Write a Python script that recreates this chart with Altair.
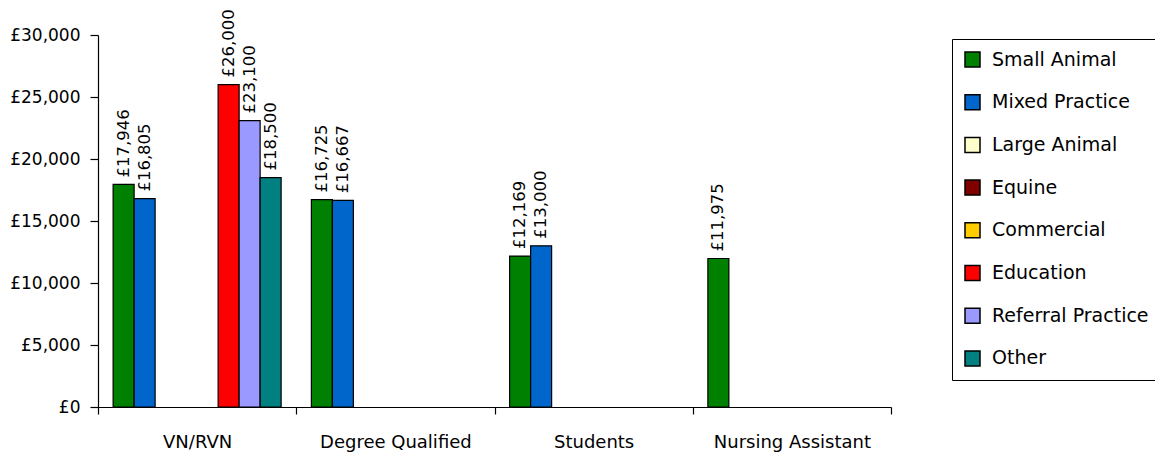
import altair as alt
import pandas as pd

categories = ["VN/RVN", "Degree Qualified", "Students", "Nursing Assistant"]
series = ["Small Animal", "Mixed Practice", "Large Animal", "Equine",
          "Commercial", "Education", "Referral Practice", "Other"]
colors = ["#008000", "#0066CC", "#FFFFCC", "#800000",
          "#FFCC00", "#FF0000", "#9999FF", "#008080"]

small_animal = [17946, 16725, 12169, 11975]
mixed_practice = [16805, 16667, 13000, None]
large_animal = [None, None, None, None]
equine = [None, None, None, None]
commercial = [None, None, None, None]
education = [26000, None, None, None]
referral_practice = [23100, None, None, None]
other = [18500, None, None, None]

values = [small_animal, mixed_practice, large_animal, equine,
          commercial, education, referral_practice, other]

rows = []
for s, vals in zip(series, values):
    for c, v in zip(categories, vals):
        if v is not None:
            rows.append({"category": c, "series": s, "value": v})
df = pd.DataFrame(rows)

FONT = "DejaVu Sans"

x = alt.X("category:N", sort=categories, title=None,
          scale=alt.Scale(domain=categories, paddingInner=0, paddingOuter=0),
          axis=alt.Axis(labelAngle=0, tickBand="extent", tickSize=7,
                        labelPadding=19, labelFontSize=18, labelFont=FONT,
                        domainColor="black", tickColor="black",
                        labelColor="black", domainWidth=1.2, tickWidth=1.2))
xo = alt.XOffset("series:N",
                 scale=alt.Scale(domain=series, paddingInner=0, paddingOuter=0.72))
y = alt.Y("value:Q", title=None,
          scale=alt.Scale(domain=[0, 30000], nice=False),
          axis=alt.Axis(values=[0, 5000, 10000, 15000, 20000, 25000, 30000],
                        labelExpr="'£' + format(datum.value, ',')",
                        grid=False, tickSize=8, labelPadding=10,
                        labelFontSize=17, labelFont=FONT,
                        domainColor="black", tickColor="black",
                        labelColor="black", domainWidth=1.2, tickWidth=1.2))

color = alt.Color("series:N", title=None,
                  scale=alt.Scale(domain=series, range=colors),
                  legend=alt.Legend(orient="none", legendX=854, legendY=4,
                                    symbolType="square", symbolSize=225,
                                    symbolStrokeColor="black", symbolStrokeWidth=1.5,
                                    symbolOpacity=1,
                                    labelFontSize=19, labelFont=FONT,
                                    labelColor="black", labelOffset=10,
                                    rowPadding=21.7, padding=11,
                                    strokeColor="black", fillColor="white",
                                    labelLimit=300))

bars = alt.Chart(df).mark_bar(stroke="black", strokeWidth=1.2, opacity=1).encode(
    x=x, xOffset=xo, y=y, color=color
)

labels = alt.Chart(df).transform_calculate(
    label="'£' + format(datum.value, ',')"
).mark_text(angle=270, align="left", baseline="middle", dx=7,
            fontSize=16.5, font=FONT, color="black").encode(
    x=x, xOffset=xo, y=y, text="label:N"
)

chart = alt.layer(bars, labels).properties(
    width=793, height=372,
    autosize=alt.AutoSizeParams(type="none"),
    padding={"left": 90, "top": 27, "right": 264, "bottom": 46},
    background="white"
).configure_view(stroke=None)

chart.save("out.html", embed_options={"renderer": "svg", "actions": False})
